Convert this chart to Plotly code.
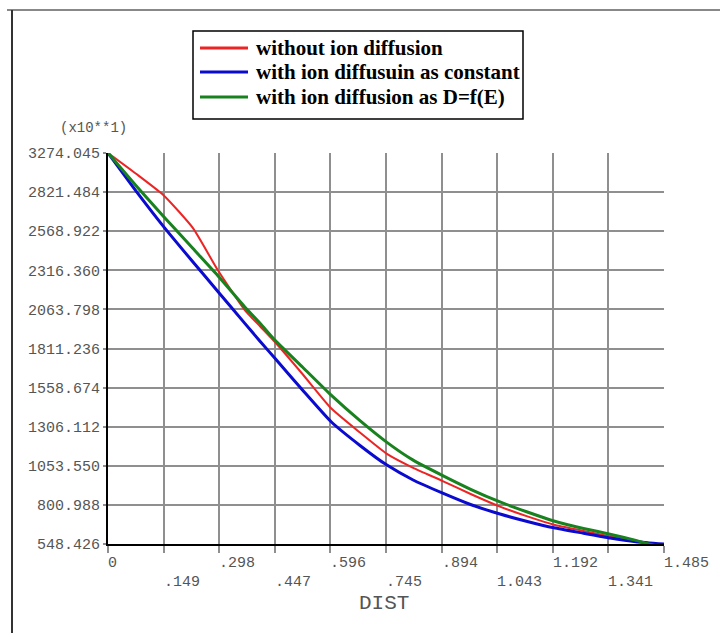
import plotly.graph_objects as go

# ---------------- data ----------------
x_vals = [0, 0.075, 0.149, 0.227, 0.294, 0.366, 0.406, 0.447, 0.52, 0.596, 0.673,
          0.745, 0.815, 0.894, 0.97, 1.047, 1.12, 1.191, 1.27, 1.341, 1.41, 1.485]

red_vals = [3074, 2940, 2800, 2589, 2315, 2058, 1955, 1850, 1645, 1425, 1268,
            1130, 1040, 955, 870, 790, 727, 673, 633, 597, 568, 540]
blue_vals = [3074, 2828, 2597, 2370, 2178, 1972, 1858, 1745, 1542, 1338, 1185,
             1058, 962, 877, 802, 742, 694, 653, 618, 587, 563, 548]
green_vals = [3074, 2863, 2663, 2457, 2280, 2078, 1975, 1862, 1690, 1510, 1345,
              1205, 1090, 990, 900, 820, 755, 697, 649, 612, 572, 522]

series_names = ["without ion diffusion",
                "with ion diffusuin as constant",
                "with ion diffusion as D=f(E)"]
series_colors = ["#ec2424", "#0a0ad0", "#18821e"]
series_widths = [2, 3, 3]

x_tick_vals = [0, 0.1485, 0.297, 0.4455, 0.594, 0.7425, 0.891, 1.0395, 1.188, 1.3365, 1.485]
x_tick_text = ["0", ".149", ".298", ".447", ".596", ".745", ".894", "1.043", "1.192", "1.341", "1.485"]

y_tick_vals = [548.426, 800.988, 1053.550, 1306.112, 1558.674, 1811.236,
               2063.798, 2316.360, 2568.922, 2821.484, 3074.046]
y_tick_text = ["548.426", "800.988", "1053.550", "1306.112", "1558.674", "1811.236",
               "2063.798", "2316.360", "2568.922", "2821.484", "3274.045"]

# ---------------- figure ----------------
W, H = 720, 633
L, R, T, B = 108, 56, 153, 89
pw, ph = W - L - R, H - T - B


def px2paper_x(px):
    return (px - L) / pw


def px2paper_y(py):
    return (H - B - py) / ph


fig = go.Figure()
for ys, name, col, wd in zip([red_vals, blue_vals, green_vals], series_names,
                             series_colors, series_widths):
    fig.add_trace(go.Scatter(x=x_vals, y=ys, mode="lines", name=name,
                             line=dict(color=col, width=wd, shape="spline", smoothing=0.5)))

mono = "Liberation Mono"
grid_col = "#8f8f8f"
fig.update_layout(
    width=W, height=H,
    margin=dict(l=L, r=R, t=T, b=B, pad=0),
    paper_bgcolor="white", plot_bgcolor="white",
    showlegend=False,
    xaxis=dict(range=[0, 1.485], tickvals=x_tick_vals, showticklabels=False,
               showgrid=True, gridcolor=grid_col, gridwidth=1.5,
               ticks="outside", ticklen=7, tickcolor=grid_col, tickwidth=1.5,
               showline=True, linecolor="black", linewidth=2, zeroline=False),
    yaxis=dict(range=[548.426, 3074.046], tickvals=y_tick_vals, ticktext=y_tick_text,
               showgrid=True, gridcolor=grid_col, gridwidth=1.5,
               ticks="outside", ticklen=3, tickcolor=grid_col, tickwidth=1.5,
               tickfont=dict(family=mono, size=15, color="#555555"),
               showline=True, linecolor="black", linewidth=2, zeroline=False),
)

# staggered x tick labels
for i, (tv, tt) in enumerate(zip(x_tick_vals, x_tick_text)):
    fig.add_annotation(x=tv, y=px2paper_y(563 if i % 2 == 0 else 582), xref="x", yref="paper",
                       text=tt, showarrow=False, xanchor="left", yanchor="middle",
                       xshift=-2,
                       font=dict(family=mono, size=15, color="#555555"))

fig.add_annotation(x=px2paper_x(384), y=px2paper_y(603), xref="paper", yref="paper",
                   text="DIST", showarrow=False, xanchor="center", yanchor="middle",
                   font=dict(family=mono, size=21, color="#555555"))
fig.add_annotation(x=px2paper_x(58), y=px2paper_y(128), xref="paper", yref="paper",
                   text="(x10**1)", showarrow=False, xanchor="left", yanchor="middle",
                   font=dict(family=mono, size=14, color="#555555"))

# legend box (drawn manually to match the original's tight layout)
fig.add_shape(type="rect", xref="paper", yref="paper",
              x0=px2paper_x(193), x1=px2paper_x(523), y0=px2paper_y(31), y1=px2paper_y(119),
              line=dict(color="black", width=1.5), fillcolor="white", layer="above")
legend_rows = [48, 72, 97]
for name, col, row in zip(series_names, series_colors, legend_rows):
    fig.add_shape(type="line", xref="paper", yref="paper",
                  x0=px2paper_x(200), x1=px2paper_x(248), y0=px2paper_y(row), y1=px2paper_y(row),
                  line=dict(color=col, width=3), layer="above")
    fig.add_annotation(x=px2paper_x(254), y=px2paper_y(row), xref="paper", yref="paper",
                       text="<b>" + name + "</b>", showarrow=False, xanchor="left", yanchor="middle",
                       font=dict(family="Liberation Serif", size=21, color="black"))

# page frame lines
fig.add_shape(type="line", xref="paper", yref="paper",
              x0=px2paper_x(7), x1=px2paper_x(720), y0=px2paper_y(10), y1=px2paper_y(10),
              line=dict(color="#888888", width=2))
fig.add_shape(type="line", xref="paper", yref="paper",
              x0=px2paper_x(12), x1=px2paper_x(12), y0=px2paper_y(10), y1=px2paper_y(633),
              line=dict(color="#333333", width=2))

fig.write_html("out.html")
